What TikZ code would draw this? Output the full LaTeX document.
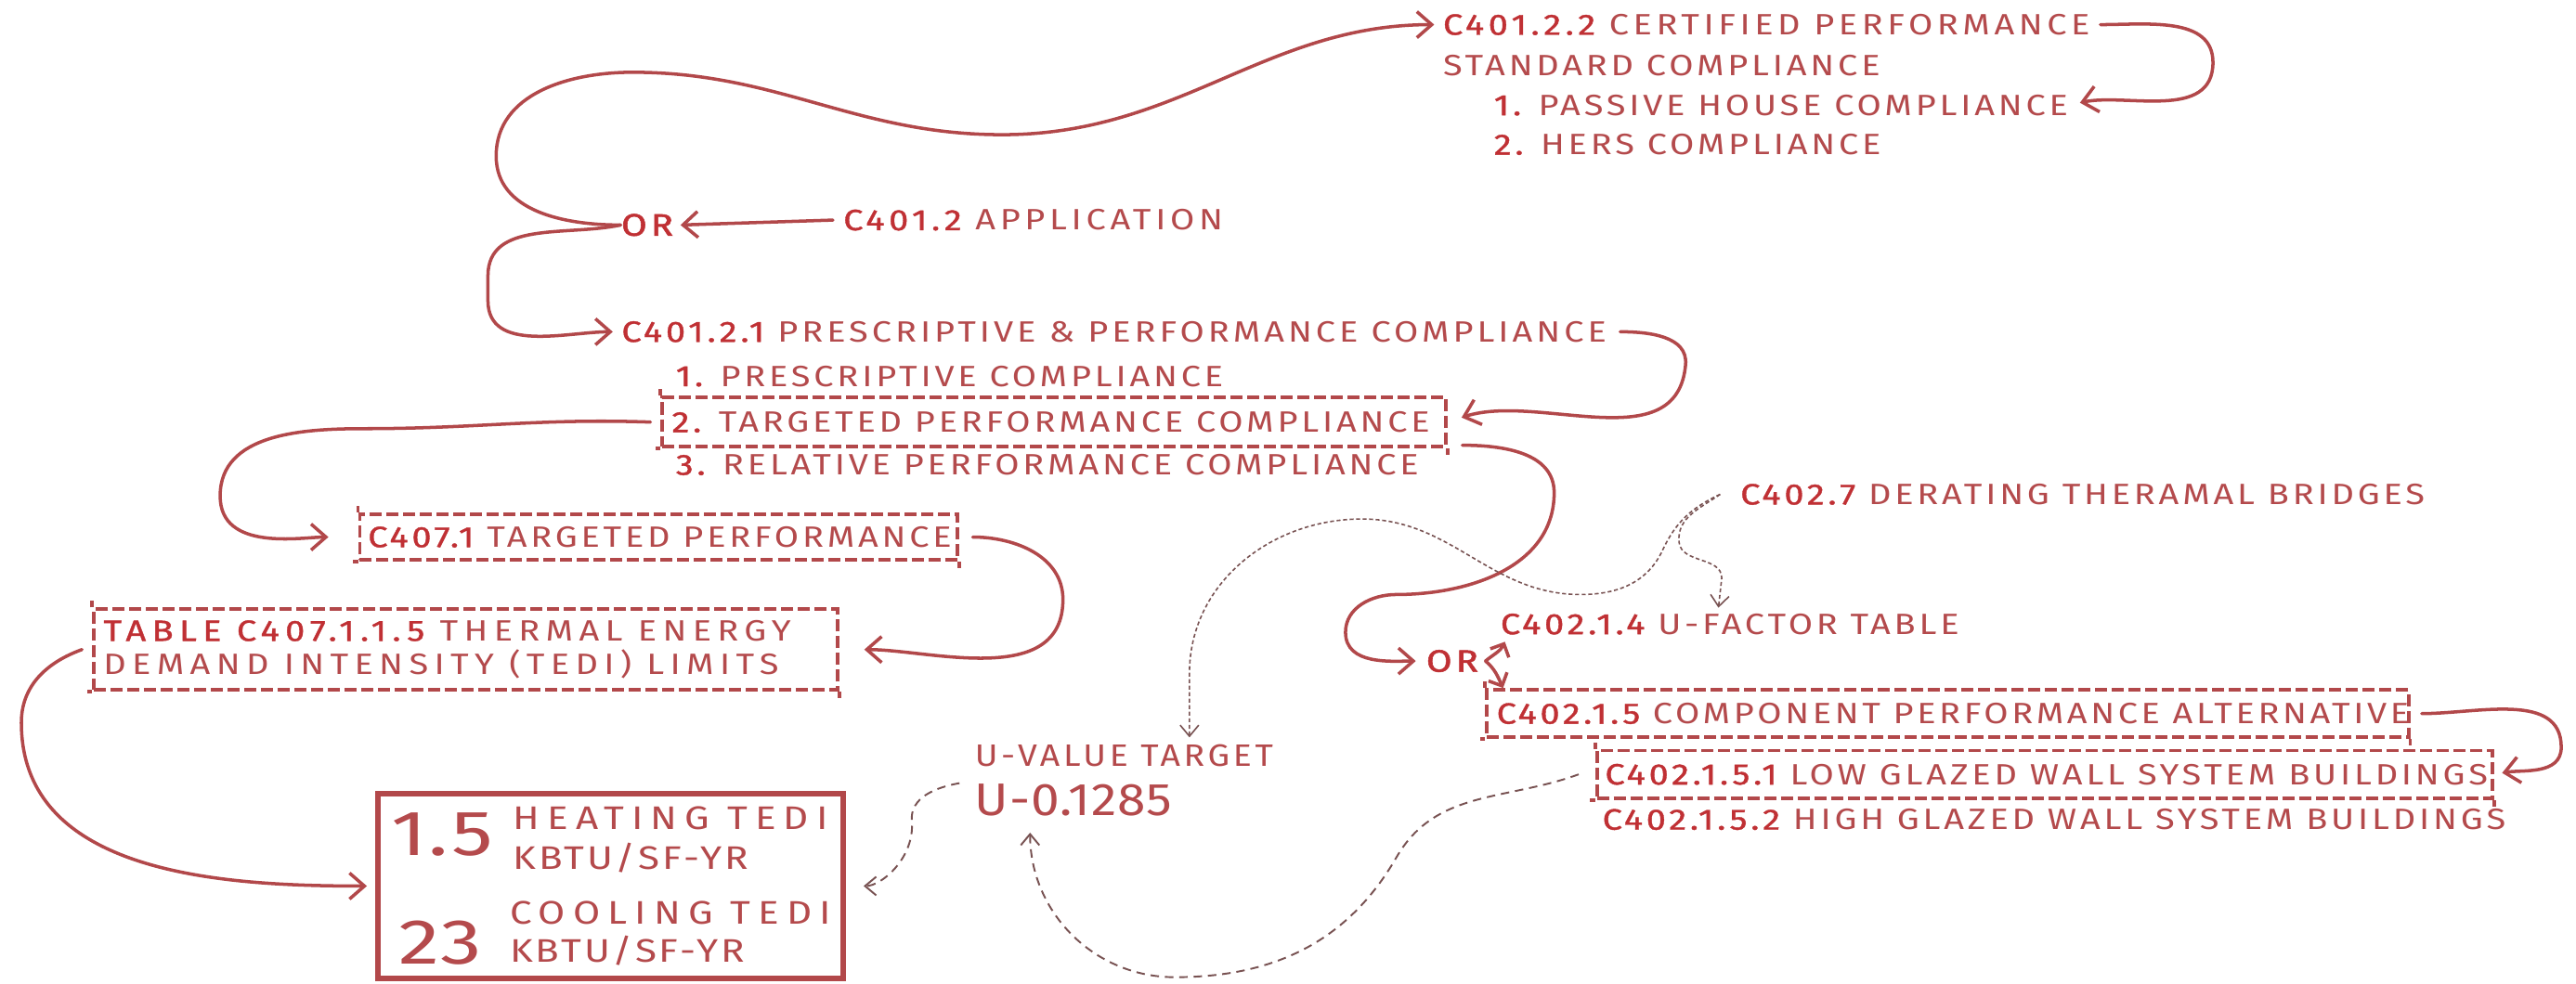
\documentclass[tikz,border=0pt]{standalone}
\usepackage{fontspec}
\setmainfont{Fira Sans}[FakeStretch=1.2, LetterSpace=12]
\newfontfamily\handfont{Fira Sans}[FakeStretch=1.2, LetterSpace=12]
\newfontfamily\tabface{Fira Sans}[FakeStretch=1.2, LetterSpace=20]
\newfontfamily\uvface{Fira Sans}[FakeStretch=1.12, LetterSpace=11]
\newfontfamily\tedilabface{Fira Sans}[FakeStretch=1.2, LetterSpace=23]
\newfontfamily\tediunitface{Fira Sans}[FakeStretch=1.2, LetterSpace=8]
\newfontfamily\numface{Fira Sans}[FakeStretch=1.3, LetterSpace=3]
\usetikzlibrary{arrows.meta}

\definecolor{ink}{RGB}{180,74,76}
\definecolor{inkdk}{RGB}{192,48,52}
\definecolor{wire}{RGB}{178,72,74}
\definecolor{thinwire}{RGB}{120,82,82}

% one drawing unit = one pixel of the layout grid
\newdimen\upx \upx=0.1769mm

% section numbers are lettered darker and heavier
\newcommand\cd[1]{{\color{inkdk}\addfontfeatures{FakeBold=1.2}#1}}
% a line of fixed width inside a frame (never wraps)
\newcommand\fitw[2]{\makebox[#1\upx][l]{#2}}
% looser tracking for a single label
\newcommand\track[1]{\addfontfeatures{LetterSpace=#1}}

\tikzset{
  handtxt/.style={font=\handfont\fontsize{9}{10.3}\selectfont, text=ink},
  txt/.style={handtxt, anchor=west, inner sep=0pt},
  ortxt/.style={inner sep=0pt, text=inkdk, font=\handfont\fontsize{9.5}{11}\selectfont\addfontfeatures{FakeBold=1.6}},
  dbox/.style={handtxt, rectangle, draw=wire, line width=1.1pt,
    dash pattern=on 1.3mm off 0.5mm, inner xsep=6\upx, inner ysep=0pt, align=left},
  tick/.style={draw=wire, line width=1.1pt},
  tbox/.style={rectangle, draw=wire, line width=1.7pt, inner sep=0pt},
  bignum/.style={inner sep=0pt, text=ink, font=\numface\fontsize{19.5}{21}\selectfont},
  tedilab/.style={anchor=west, inner sep=0pt, text=ink, font=\tedilabface\fontsize{10}{11}\selectfont},
  tediunit/.style={anchor=west, inner sep=0pt, text=ink, font=\tediunitface\fontsize{10}{11}\selectfont},
  arr/.style={draw=wire, line width=1pt, line cap=round,
    -{Straight Barb[length=1.6mm,width=2.8mm]}},
  smallarr/.style={draw=wire, line width=1pt, line cap=round,
    -{Straight Barb[length=1.1mm,width=2.2mm]}},
  dotarr/.style={draw=thinwire, line width=0.45pt, dash pattern=on 1.2pt off 0.8pt,
    -{Straight Barb[length=1.2mm,width=2mm]}},
  dasharr/.style={draw=thinwire, line width=0.55pt, dash pattern=on 2.6pt off 1.8pt,
    -{Straight Barb[length=1.2mm,width=2mm]}},
}

\begin{document}
\begin{tikzpicture}[x=\upx, y=\upx]
\useasboundingbox[fill=white] (0,0) rectangle (1568,-599);

% ---- certified performance branch
\node[txt] (cert)  at (878,-15) {\track{14.5}\cd{C401.2.2} CERTIFIED PERFORMANCE};
\node[txt] (certb) at (878,-40) {STANDARD COMPLIANCE};
\node[txt] (cert1) at (909,-64) {\cd{1.} PASSIVE HOUSE COMPLIANCE};
\node[txt] (cert2) at (909,-88) {\cd{2.} HERS COMPLIANCE};

% ---- application and first choice
\node[ortxt] (or1) at (394,-137) {OR};
\node[txt] (app) at (513,-134) {\track{14.7}\cd{C401.2} APPLICATION};

% ---- prescriptive & performance branch
\node[txt] (pp)  at (378,-202) {\track{12.6}\cd{C401.2.1} PRESCRIPTIVE \& PERFORMANCE COMPLIANCE};
\node[txt] (pp1) at (411,-229) {\cd{1.} PRESCRIPTIVE COMPLIANCE};
\node[dbox, minimum height=30\upx] (pp2) at (641.5,-257)
  {\fitw{465}{\cd{2.} TARGETED PERFORMANCE COMPLIANCE}};
\node[txt] (pp3) at (411,-283) {\cd{3.} RELATIVE PERFORMANCE COMPLIANCE};

% ---- targeted performance path
\node[dbox, inner xsep=5\upx, minimum height=28\upx] (tp) at (401,-327)
  {\fitw{354}{\cd{C407.1} TARGETED PERFORMANCE}};
\node[dbox, minimum height=49\upx, font=\tabface\fontsize{9}{10.3}\selectfont] (tab) at (283.5,-395.5)
  {\fitw{441}{\cd{TABLE C407.1.1.5} THERMAL ENERGY}\\\fitw{441}{DEMAND INTENSITY (TEDI) LIMITS}};

% ---- TEDI limits
\node[tbox, minimum width=283\upx, minimum height=113\upx] (tedi) at (371.5,-539.5) {};
\node[bignum] (h15) at (269,-508) {1.5};
\node[tedilab] (hlab)  at (312,-498) {HEATING TEDI};
\node[tediunit] (hunit) at (312,-522.5) {KBTU/SF-YR};
\node[bignum] (c23) at (268,-574) {23};
\node[tedilab] (clab)  at (310,-556) {COOLING TEDI};
\node[tediunit] (cunit) at (310,-579) {KBTU/SF-YR};

% ---- U-value target
\node[txt, font=\uvface\fontsize{9.5}{11}\selectfont] (uvt) at (593,-460) {U-VALUE TARGET};
\node[txt, font=\uvface\fontsize{14}{16}\selectfont\addfontfeatures{LetterSpace=2}] (uval) at (593,-487) {U-0.1285};

% ---- component path
\node[txt] (der) at (1059,-301) {\cd{C402.7} DERATING THERAMAL BRIDGES};
\node[ortxt] (or2) at (884,-402.5) {OR};
\node[txt] (uf) at (913,-380) {\cd{C402.1.4} U-FACTOR TABLE};
\node[dbox, minimum height=29\upx] (cpa) at (1185.5,-434.5)
  {\fitw{549}{\track{11.4}\cd{C402.1.5} COMPONENT PERFORMANCE ALTERNATIVE}};
\node[dbox, inner xsep=5\upx, minimum height=29\upx] (low) at (1244.5,-471.5)
  {\fitw{535}{\cd{C402.1.5.1} LOW GLAZED WALL SYSTEM BUILDINGS}};
\node[txt] (high) at (975,-499) {\cd{C402.1.5.2} HIGH GLAZED WALL SYSTEM BUILDINGS};

% corner marks of the dashed frames
\foreach \n in {pp2,tp,tab,cpa,low}{
  \draw[tick] (\n.north west) -- ++(0,4);
  \draw[tick] (\n.south west) -- ++(-3,0);
  \draw[tick] (\n.south east) -- ++(0,-4);
}

% coordinates where loose connector ends land
\coordinate (derjoin) at ([xshift=-12\upx]der.west);
\coordinate (uvtin) at (724,-449);
\coordinate (ufin) at (1046,-370);
\coordinate (uvalin) at (627,-507);
\coordinate (orfork) at ([xshift=4\upx]or2.east);

% ---- solid connectors
\draw[arr] ([xshift=-6\upx]app.west) -- ([xshift=4\upx]or1.east);
\draw[arr, shorten >=5\upx] (or1.west) to[out=180,in=270] (302,-95)
  to[out=90,in=180] (385,-44) to[out=0,in=180] (610,-82)
  to[out=0,in=180] (cert.west);
\draw[arr, shorten >=5\upx] (or1.west) to[out=192,in=90] (297,-168)
  -- (297,-183) to[out=270,in=180] (pp.west);
\draw[arr, shorten >=7\upx] ([xshift=6\upx]cert.east) to[out=0,in=90] (1347,-38)
  to[out=270,in=12] (cert1.east);
\draw[arr, shorten >=9\upx] ([xshift=8\upx]pp.east) to[out=0,in=85] (1026,-222)
  to[out=265,in=18] (pp2.east);
\draw[arr, shorten >=18\upx] ([xshift=-6\upx]pp2.west) to[out=178,in=0] (222,-261)
  to[out=180,in=90] (134,-302) to[out=270,in=180] (tp.west);
\draw[arr, shorten >=15\upx] ([xshift=8\upx]tp.east) to[out=0,in=90] (647,-365)
  to[out=270,in=0] (tab.east);
\draw[arr, shorten >=5\upx] ([xshift=-6\upx]tab.west) to[out=200,in=90] (13,-440)
  to[out=270,in=180] (tedi.west);
\draw[arr, shorten >=6\upx] ([shift={(9\upx,2\upx)}]pp2.south east) to[out=0,in=90] (946,-300)
  to[out=270,in=0] (850,-362) to[out=180,in=90] (819,-385)
  to[out=270,in=180] (or2.west);
\draw[smallarr] (orfork) to[out=40,in=245] ([shift={(3\upx,-4\upx)}]uf.south west);
\draw[smallarr] (orfork) to[out=-40,in=115] ([xshift=11\upx]cpa.north west);
\draw[arr, shorten >=5\upx] ([xshift=7\upx]cpa.east) to[out=0,in=90] (1559,-455)
  to[out=270,in=10] (low.east);

% ---- light connectors
\draw[dasharr, shorten >=11\upx] ([xshift=-9\upx]uval.north west) to[out=190,in=95] (555,-500)
  to[out=275,in=0] (tedi.east);
\draw[dasharr] ([xshift=-10\upx]low.west) to[out=200,in=60] (850,-522)
  to[out=240,in=0] (715,-595) to[out=180,in=270] (uvalin);
\draw[dotarr] (derjoin) to[out=205,in=65] (1012,-335) to[out=245,in=0] (962,-362)
  to[out=180,in=0] (829,-316) to[out=180,in=90] (724,-410) -- (uvtin);
\draw[dotarr] (derjoin) to[out=215,in=95] (1022,-330) to[out=275,in=90] (1048,-352) -- (ufin);

\end{tikzpicture}
\end{document}
